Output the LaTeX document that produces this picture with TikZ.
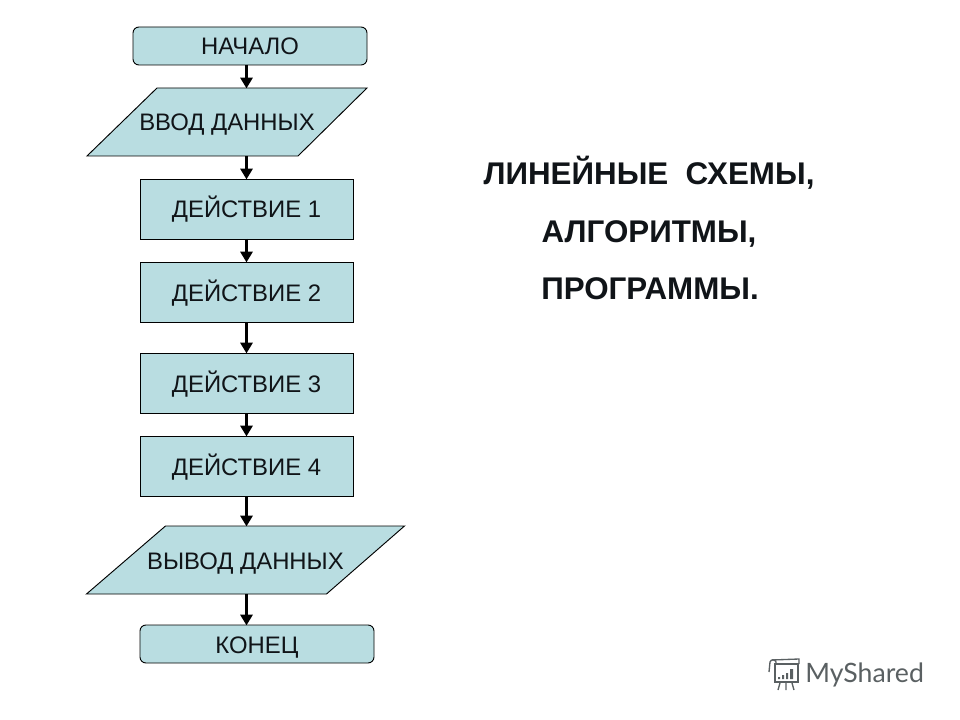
\documentclass[tikz,border=0pt]{standalone}
\usepackage{fontspec}
\setmainfont{Liberation Sans}
\newfontfamily\logofont{Lato}
\usetikzlibrary{calc,backgrounds,arrows.meta}
\definecolor{boxfill}{HTML}{B9DDE1}
\definecolor{ink}{HTML}{101418}
\definecolor{logogray}{HTML}{5A6062}
\tikzset{
  x=0.75pt,y=-0.75pt,
  flowbase/.style={inner sep=0pt,outer sep=0pt,font=\fontsize{17.9}{22}\selectfont,text=ink,anchor=center,text height=13.5pt,text depth=0pt},
  actionbox/.style={flowbase,draw=black,line width=0.7pt,fill=boxfill,minimum width=159.75pt,minimum height=45pt},
  termbox/.style={flowbase,draw=black,line width=0.7pt,fill=boxfill,rounded corners=4.5pt,minimum height=28.5pt},
  iobox/.style={flowbase,minimum height=51pt},
  ioshape/.style={draw=black,line width=0.7pt,fill=boxfill,line join=miter},
  flowarrow/.style={draw=black,line width=2.3pt,-{Triangle[length=8pt,width=9pt]},shorten >=-0.3pt},
  headline/.style={inner sep=0pt,font=\bfseries\fontsize{23.5}{28}\selectfont,text=ink,anchor=center,text height=17pt,text depth=0pt},
  logoline/.style={draw=logogray,line width=1pt},
}
\begin{document}
\begin{tikzpicture}
\useasboundingbox (0,0) rectangle (960,720);
\coordinate (spine) at (246.5,0);

\node[termbox,minimum width=175.5pt] (start) at (250,46) {НАЧАЛО};
\node[iobox,minimum width=210pt] (input) at (227,122) {ВВОД ДАННЫХ};
\node[actionbox] (act1) at (246.5,209) {ДЕЙСТВИЕ 1};
\node[actionbox] (act2) at (246.5,292) {ДЕЙСТВИЕ 2};
\node[actionbox] (act3) at (246.5,383) {ДЕЙСТВИЕ 3};
\node[actionbox] (act4) at (246.5,466) {ДЕЙСТВИЕ 4};
\node[iobox,minimum width=238.5pt] (output) at (245.5,560) {ВЫВОД ДАННЫХ};
\node[termbox,minimum width=175.5pt] (finish) at (257,644) {КОНЕЦ};

\begin{scope}[on background layer]
  \draw[ioshape] ($(input.north west)+(70,0)$) -- (input.north east)
     -- ($(input.south east)+(-69,0)$) -- (input.south west) -- cycle;
  \draw[ioshape] ($(output.north west)+(79,0)$) -- (output.north east)
     -- ($(output.south east)+(-78,0)$) -- (output.south west) -- cycle;
\end{scope}

\draw[flowarrow] (spine |- start.south) -- (spine |- input.north);
\draw[flowarrow] (spine |- input.south) -- (spine |- act1.north);
\draw[flowarrow] (spine |- act1.south) -- (spine |- act2.north);
\draw[flowarrow] (spine |- act2.south) -- (spine |- act3.north);
\draw[flowarrow] (spine |- act3.south) -- (spine |- act4.north);
\draw[flowarrow] (spine |- act4.south) -- (spine |- output.north);
\draw[flowarrow] (spine |- output.south) -- (spine |- finish.north);

\node[headline] (title1) at (649,173) {ЛИНЕЙНЫЕ\ \ СХЕМЫ,};
\node[headline] (title2) at (649,231) {АЛГОРИТМЫ,};
\node[headline] (title3) at (650,288) {ПРОГРАММЫ.};

% watermark
\node[inner sep=0pt,anchor=west,text=logogray,font=\logofont\fontsize{20}{24}\selectfont] (logo) at (805,675) {MyShared};
\draw[logoline] (775,664) rectangle (798,682);
\draw[logoline] (769,672) -- (770,662) .. controls (771,659) and (775,659) .. (776,662) -- (776,664);
\draw[logoline] (772,660) -- (799,659) -- (799,664);
\fill[logogray] (778,677) rectangle (780,679) (782,675) rectangle (784,679) (786,673) rectangle (788,679) (790,669) rectangle (793,679);
\draw[logoline] (780,683) -- (778,690) (786,683) -- (786,690) (792,683) -- (794,690);
\end{tikzpicture}
\end{document}
